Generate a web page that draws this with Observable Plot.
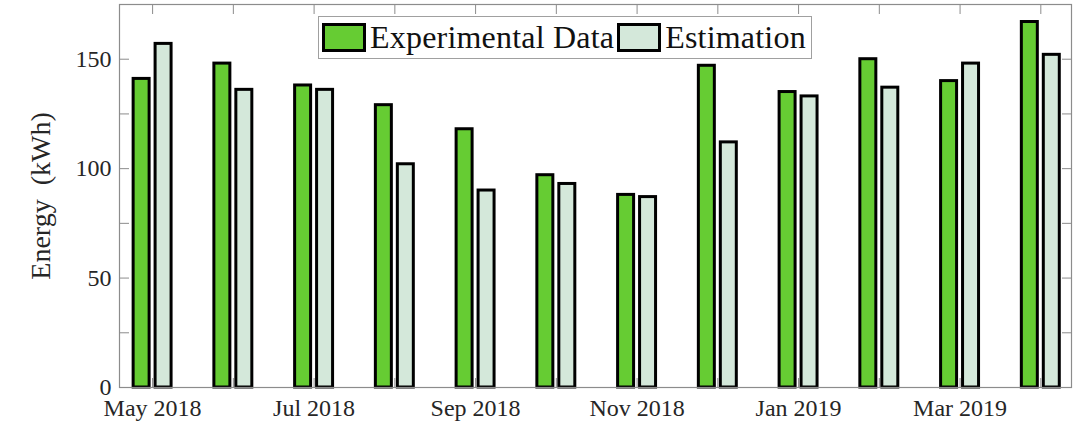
<!DOCTYPE html>
<html>
<head>
<meta charset="utf-8">
<script src="https://cdn.jsdelivr.net/npm/d3@7"></script>
<script src="https://cdn.jsdelivr.net/npm/@observablehq/plot@0.6"></script>
<style>
  body { margin: 0; background: #fff; }
  #wrap { position: relative; width: 1082px; height: 425px; font-family: "Liberation Serif", "Times New Roman", serif; }
  #legend { position: absolute; left: 318px; top: 16px; width: 492px; height: 41px; border: 1px solid #a0a0a0; background: #fff; display: flex; align-items: center; font-size: 32px; color: #111; box-sizing: content-box; }
  .sw { width: 38px; height: 23px; border: 3px solid #000; margin-left: 3px; margin-right: 4px; flex: none; }
  .lt { display: inline-block; white-space: nowrap; letter-spacing: 0.2px; }
</style>
</head>
<body>
<div id="wrap"></div>
<script>
const months = ["May 2018","Jun 2018","Jul 2018","Aug 2018","Sep 2018","Oct 2018","Nov 2018","Dec 2018","Jan 2019","Feb 2019","Mar 2019","Apr 2019"];
const experimental = [141, 148, 138, 129, 118, 97, 88, 147, 135, 150, 140, 167];
const estimation   = [157, 136, 136, 102, 90, 93, 87, 112, 133, 137, 148, 152];
const seriesNames = ["Experimental Data", "Estimation"];
const seriesColors = ["#66cc33", "#d4e8da"];
const yTicks = [0, 50, 100, 150];
const yMinorTicks = [0, 25, 50, 75, 100, 125, 150];
const xLabelIdx = [0, 2, 4, 6, 8, 10];

const rows = [];
months.forEach((m, i) => {
  rows.push({i, series: seriesNames[0], value: experimental[i]});
  rows.push({i, series: seriesNames[1], value: estimation[i]});
});

const allIdx = months.map((_, i) => i);
const axisGray = "#8c8c8c";

const plot = Plot.plot({
  width: 1082,
  height: 425,
  marginLeft: 119,
  marginRight: 11,
  marginTop: 4,
  marginBottom: 38,
  style: {fontFamily: "'Liberation Serif', 'Times New Roman', serif", background: "#fff"},
  x: {type: "linear", domain: [-0.41, 11.38]},
  y: {domain: [0, 175]},
  color: {domain: seriesNames, range: seriesColors},
  marks: [
    Plot.rectY(rows, {
      x1: d => d.i + (d.series === seriesNames[0] ? -0.235 : 0.037),
      x2: d => d.i + (d.series === seriesNames[0] ? -0.037 : 0.235),
      y: "value",
      fill: "series",
      stroke: "#000",
      strokeWidth: 3
    }),
    Plot.frame({stroke: axisGray, strokeWidth: 1.2}),
    // inward tick marks
    Plot.axisY({anchor: "left", ticks: yMinorTicks, tickSize: -10, tickFormat: () => "", stroke: axisGray, label: null}),
    Plot.axisY({anchor: "right", ticks: yMinorTicks, tickSize: -10, tickFormat: () => "", stroke: axisGray, label: null}),
    Plot.axisX({anchor: "top", ticks: allIdx, tickSize: -9, tickFormat: () => "", stroke: axisGray, label: null}),
    Plot.axisX({anchor: "bottom", ticks: allIdx, tickSize: -9, tickFormat: () => "", stroke: axisGray, label: null}),
    // tick labels
    Plot.axisY({anchor: "left", ticks: yTicks, tickSize: 0, tickPadding: 8, fontSize: 24, fill: "#262626", label: null}),
    Plot.axisX({anchor: "bottom", ticks: xLabelIdx, tickSize: 0, tickPadding: 11, fontSize: 24, fill: "#262626", tickFormat: i => months[i], label: null}),
    Plot.text(["Energy\u2002(kWh)"], {frameAnchor: "left", textAnchor: "middle", rotate: -90, dx: -78, text: d => d, fontSize: 28, fill: "#262626"})
  ]
});

const wrap = document.getElementById("wrap");
wrap.appendChild(plot);
const legend = document.createElement("div");
legend.id = "legend";
seriesNames.forEach((name, k) => {
  const sw = document.createElement("div");
  sw.className = "sw";
  sw.style.background = seriesColors[k];
  legend.appendChild(sw);
  const t = document.createElement("span");
  t.className = "lt";
  t.textContent = name;
  legend.appendChild(t);
});
wrap.appendChild(legend);
</script>
</body>
</html>
